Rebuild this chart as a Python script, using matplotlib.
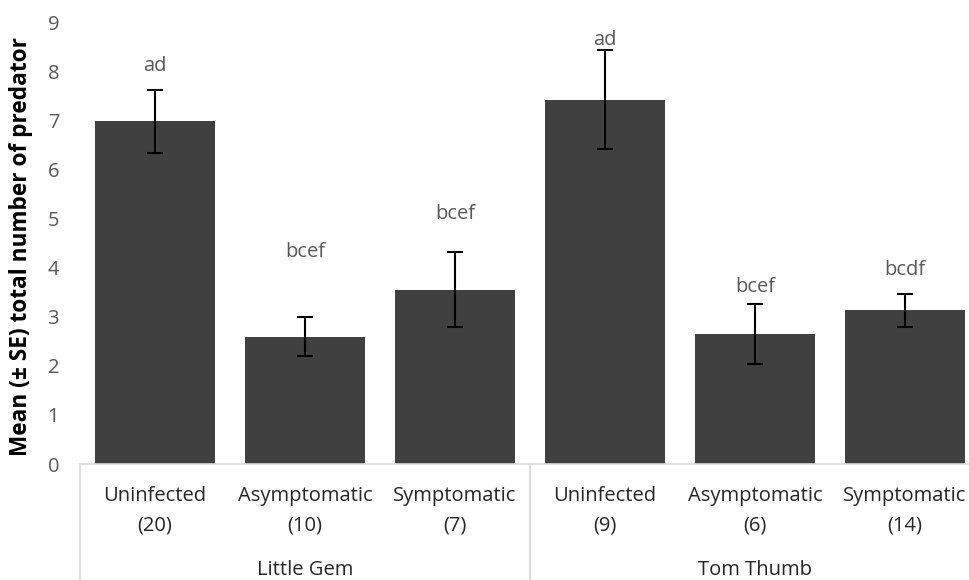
import matplotlib
matplotlib.use("Agg")
import matplotlib.pyplot as plt
from matplotlib.transforms import blended_transform_factory

# ---- data ----
groups = ["Little Gem", "Tom Thumb"]
treatments = ["Uninfected", "Asymptomatic", "Symptomatic",
              "Uninfected", "Asymptomatic", "Symptomatic"]
sample_sizes = ["(20)", "(10)", "(7)", "(9)", "(6)", "(14)"]
means = [6.98, 2.59, 3.55, 7.42, 2.65, 3.13]
se = [0.64, 0.40, 0.76, 1.01, 0.61, 0.34]
letters = ["ad", "bcef", "bcef", "ad", "bcef", "bcdf"]
letter_y = [8.10, 4.32, 5.09, 8.63, 3.60, 3.96]
yticks = list(range(0, 10))

W, H = 970, 580
FS = 14.5
plt.rcParams['font.family'] = ['Open Sans', 'DejaVu Sans']
fig = plt.figure(figsize=(W / 100, H / 100), dpi=100)
ax_l, ax_r, ax_t, ax_b = 80, 980, 22, 464
ax = fig.add_axes([ax_l / W, 1 - ax_b / H, (ax_r - ax_l) / W, (ax_b - ax_t) / H])

x = list(range(len(means)))
ax.bar(x, means, width=0.8, color="#404040", zorder=2)
ax.errorbar(x, means, yerr=se, fmt='none', ecolor='black', elinewidth=1.5,
            capsize=6, capthick=1.5, zorder=3)
for xi, lab, ly in zip(x, letters, letter_y):
    ax.text(xi, ly, lab, ha='center', va='center', fontsize=FS, color="#595959")

ax.set_xlim(-0.5, 5.5)
ax.set_ylim(0, 9)
ax.set_yticks(yticks)
ax.set_yticklabels([str(t) for t in yticks], fontsize=FS, color="#595959")
ax.tick_params(axis='y', length=0, pad=15)
ax.set_xticks([])
for s in ['top', 'right', 'left']:
    ax.spines[s].set_visible(False)
ax.spines['bottom'].set_color("#d9d9d9")
ax.spines['bottom'].set_linewidth(1.2)

tr = blended_transform_factory(ax.transData, fig.transFigure)
for xi, t, n in zip(x, treatments, sample_sizes):
    ax.text(xi, 1 - 496 / H, t, transform=tr, ha='center', va='center',
            fontsize=FS, color="#262626")
    ax.text(xi, 1 - 526 / H, n, transform=tr, ha='center', va='center',
            fontsize=FS, color="#262626")
for gi, g in enumerate(groups):
    ax.text(gi * 3 + 1, 1 - 570 / H, g, transform=tr, ha='center', va='center',
            fontsize=FS, color="#262626")
for bx in [-0.5, 2.5, 5.5]:
    ax.plot([bx, bx], [1 - ax_b / H, 0], transform=tr, color="#d9d9d9",
            lw=1.2, clip_on=False)

fig.text(21 / W, 1 - 247 / H, "Mean (± SE) total number of predator",
         rotation=90, ha='center', va='center', fontsize=16.3,
         fontweight='bold', color='black')

fig.savefig("out.png", dpi=100, facecolor='white')
